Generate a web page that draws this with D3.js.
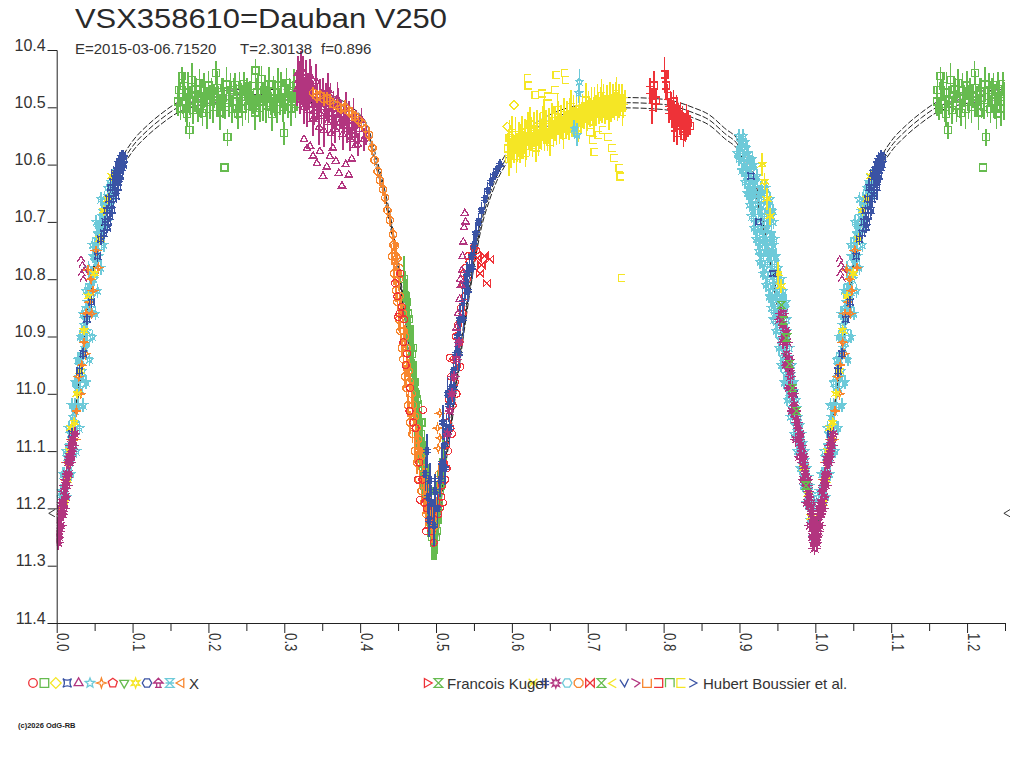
<!DOCTYPE html>
<html>
<head>
<meta charset="utf-8">
<script src="https://cdn.jsdelivr.net/npm/d3@7"></script>
<style>
  body { margin: 0; background: #fff; }
  svg { display: block; font-family: "Liberation Sans", Arial, sans-serif; }
</style>
</head>
<body>
<div id="chart"></div>
<script>
// ---- data (phase, magnitude, error) ----
const title = 'VSX358610=Dauban V250';
const subtitle = ['E=2015-03-06.71520', 'T=2.30138', 'f=0.896'];
const xTicks = [0, 0.1, 0.2, 0.3, 0.4, 0.5, 0.6, 0.7, 0.8, 0.9, 1.0, 1.1, 1.2];
const xMinor = [0.05, 0.15, 0.25, 0.35, 0.45, 0.55, 0.65, 0.75, 0.85, 0.95, 1.05, 1.15, 1.25];
const yTicks = [10.4, 10.5, 10.6, 10.7, 10.8, 10.9, 11.0, 11.1, 11.2, 11.3, 11.4];

// fitted light curve (centre line), phase 0..1
const curvePh = [0, 0.01, 0.02, 0.03, 0.04, 0.05, 0.06, 0.07, 0.08, 0.09, 0.10, 0.12, 0.14, 0.16, 0.18, 0.20, 0.25,
  0.30, 0.33, 0.35, 0.37, 0.39, 0.40, 0.41, 0.42, 0.43, 0.44, 0.45, 0.46, 0.47, 0.48, 0.49, 0.50,
  0.51, 0.52, 0.53, 0.54, 0.55, 0.56, 0.57, 0.58, 0.59, 0.60, 0.62, 0.65, 0.70, 0.75, 0.80, 0.84,
  0.86, 0.88, 0.90, 0.91, 0.92, 0.93, 0.94, 0.95, 0.96, 0.97, 0.98, 0.99, 1.00];
const curveMag = [11.25, 11.17, 11.08, 10.98, 10.87, 10.775, 10.70, 10.65, 10.615, 10.588, 10.568, 10.54, 10.518, 10.50, 10.49, 10.484, 10.478,
  10.478, 10.482, 10.485, 10.493, 10.51, 10.522, 10.542, 10.59, 10.64, 10.70, 10.78, 10.87, 10.97, 11.07, 11.16, 11.25,
  11.14, 11.05, 10.95, 10.855, 10.77, 10.70, 10.655, 10.62, 10.595, 10.575, 10.548, 10.522, 10.502, 10.492, 10.495, 10.51,
  10.522, 10.545, 10.57, 10.60, 10.635, 10.695, 10.765, 10.84, 10.92, 11.0, 11.085, 11.17, 11.25];
const curveOffsets = [-0.009, 0, 0.009];

const greenMax = [[0.160,10.490,0.025],[0.161,10.470,0.030],[0.163,10.502,0.020],[0.165,10.445,0.015],[0.166,10.482,0.030],[0.168,10.463,0.025],
  [0.170,10.494,0.032],[0.172,10.512,0.020],[0.173,10.474,0.036],[0.175,10.540,0.015],[0.176,10.488,0.026],[0.178,10.452,0.030],[0.180,10.505,0.024],
  [0.182,10.478,0.031],[0.184,10.469,0.020],[0.186,10.497,0.028],[0.188,10.458,0.025],[0.190,10.486,0.033],[0.192,10.510,0.022],[0.194,10.471,0.030],
  [0.196,10.480,0.019],[0.198,10.503,0.034],[0.200,10.462,0.026],[0.202,10.491,0.030],[0.204,10.472,0.024],[0.206,10.499,0.029],[0.208,10.481,0.021],
  [0.210,10.440,0.020],[0.211,10.466,0.030],[0.213,10.489,0.026],[0.215,10.509,0.031],[0.217,10.473,0.024],[0.219,10.484,0.035],[0.221,10.605,0],
  [0.222,10.500,0.020],[0.224,10.460,0.031],[0.225,10.552,0.015],[0.227,10.492,0.025],[0.229,10.470,0.030],[0.231,10.503,0.024],[0.233,10.479,0.031],
  [0.235,10.461,0.020],[0.237,10.490,0.030],[0.239,10.511,0.026],[0.241,10.468,0.030],[0.243,10.482,0.025],[0.245,10.502,0.031],[0.247,10.459,0.021],
  [0.249,10.489,0.034],[0.251,10.472,0.024],[0.253,10.498,0.030],[0.255,10.480,0.026],[0.257,10.463,0.030],[0.259,10.492,0.020],[0.261,10.509,0.031],
  [0.262,10.436,0.020],[0.264,10.474,0.026],[0.266,10.485,0.030],[0.268,10.501,0.024],[0.270,10.450,0.022],[0.272,10.490,0.034],[0.274,10.470,0.025],
  [0.276,10.497,0.030],[0.278,10.481,0.025],[0.280,10.460,0.030],[0.282,10.493,0.021],[0.284,10.512,0.030],[0.286,10.473,0.027],[0.288,10.484,0.031],
  [0.290,10.503,0.024],[0.292,10.462,0.030],[0.294,10.491,0.022],[0.296,10.470,0.031],[0.298,10.500,0.025],[0.300,10.545,0.020],[0.301,10.482,0.030],
  [0.303,10.458,0.026],[0.305,10.489,0.030],[0.307,10.471,0.022],[0.309,10.502,0.030],[0.311,10.480,0.026],[0.313,10.463,0.030],[0.315,10.494,0.025],
  [0.317,10.476,0.030]];

const purpleMax = [[0.317,10.468,0.030],[0.318,10.440,0.030],[0.319,10.452,0.032],[0.321,10.487,0.025],[0.322,10.432,0.030],[0.323,10.461,0.035],
  [0.325,10.440,0.030],[0.326,10.500,0.030],[0.327,10.478,0.028],[0.329,10.452,0.034],[0.330,10.505,0.030],[0.331,10.470,0.030],[0.333,10.496,0.026],
  [0.334,10.445,0.030],[0.335,10.459,0.031],[0.337,10.483,0.030],[0.338,10.520,0.030],[0.339,10.507,0.024],[0.341,10.472,0.030],[0.342,10.455,0.030],
  [0.343,10.491,0.032],[0.345,10.516,0.025],[0.346,10.535,0.030],[0.347,10.480,0.030],[0.349,10.500,0.029],[0.351,10.474,0.026],[0.352,10.540,0.030],
  [0.353,10.511,0.030],[0.355,10.489,0.031],[0.357,10.526,0.024],[0.358,10.470,0.030],[0.359,10.498,0.030],[0.361,10.483,0.025],[0.362,10.545,0.030],
  [0.363,10.518,0.031],[0.365,10.502,0.030],[0.367,10.538,0.024],[0.369,10.509,0.030],[0.370,10.485,0.030],[0.371,10.493,0.026],[0.373,10.527,0.030],
  [0.375,10.512,0.025],[0.377,10.547,0.028],[0.379,10.520,0.025],[0.381,10.503,0.030],[0.383,10.538,0.024],[0.385,10.519,0.030],[0.387,10.556,0.020],
  [0.389,10.531,0.026],[0.391,10.512,0.029],[0.393,10.548,0.021],[0.395,10.529,0.025],[0.397,10.565,0.020],[0.399,10.538,0.025],[0.402,10.522,0.020],
  [0.405,10.556,0.020],[0.408,10.548,0.018]];
const purpleMaxLow = [[0.326,10.556],[0.330,10.572],[0.334,10.568],[0.338,10.585],[0.343,10.598],[0.347,10.577],[0.351,10.620],[0.356,10.604],
  [0.360,10.586],[0.364,10.571],[0.368,10.594],[0.372,10.615],[0.376,10.637],[0.381,10.600],[0.385,10.618],[0.389,10.590],[0.394,10.566]];

const orangeDesc = [[0.338,10.475,0.010],[0.343,10.481,0.012],[0.347,10.479,0.010],[0.352,10.486,0.012],[0.356,10.484,0.010],[0.360,10.489,0.012],
  [0.365,10.494,0.010],[0.370,10.497,0.012],[0.375,10.502,0.010],[0.380,10.500,0.012],[0.385,10.507,0.010],[0.389,10.512,0.012],[0.393,10.516,0.010],
  [0.398,10.522,0.012],[0.402,10.528,0.010],[0.407,10.537,0.012],[0.412,10.548,0.010],[0.416,10.571,0.012],[0.419,10.592,0.010],[0.423,10.612,0.012],
  [0.426,10.627,0.010],[0.430,10.643,0.012],[0.433,10.658,0.010],[0.436,10.680,0.012],[0.439,10.697,0.010],[0.443,10.722,0.012],[0.446,10.742,0.010],
  [0.449,10.764,0.012],[0.452,10.781,0.010]];

// secondary minimum
const greenSec = [[0.462,10.84,0.04],[0.464,10.87,0.04],[0.466,10.90,0.035],[0.468,10.93,0.04],[0.470,10.95,0.04],[0.472,10.98,0.035],[0.474,11.00,0.04],
  [0.476,11.03,0.04],[0.478,11.05,0.035],[0.480,11.07,0.04],[0.482,11.09,0.04],[0.484,11.11,0.035],[0.486,11.13,0.04],[0.488,11.15,0.04],[0.490,11.17,0.035],
  [0.492,11.19,0.04],[0.494,11.21,0.04],[0.496,11.23,0.035],[0.498,11.24,0.04],[0.500,11.25,0.04],[0.502,11.22,0.035],[0.504,11.19,0.04],[0.506,11.16,0.035],
  [0.470,10.92,0.04],[0.475,11.01,0.035],[0.481,11.05,0.04],[0.485,11.14,0.035],[0.491,11.20,0.04],[0.497,11.26,0.03],
  [0.458,10.80,0.04],[0.460,10.83,0.045],[0.463,10.86,0.04],[0.465,10.89,0.05],[0.467,10.92,0.04],[0.469,10.96,0.045],[0.471,10.99,0.05],
  [0.473,11.02,0.04],[0.475,11.04,0.045],[0.477,11.07,0.05],[0.479,11.09,0.04],[0.481,11.11,0.045],[0.483,11.13,0.05],[0.485,11.16,0.04],
  [0.487,11.18,0.045],[0.489,11.20,0.05],[0.493,11.22,0.045],[0.495,11.25,0.04],[0.499,11.23,0.045],[0.501,11.24,0.04],[0.503,11.20,0.045],
  [0.505,11.17,0.04],[0.507,11.14,0.045],[0.509,11.12,0.04]];
const orangeSec = [[0.444,10.74,0.010],[0.447,10.76,0.015],[0.449,10.79,0.010],[0.451,10.80,0.020],[0.452,10.83,0.015],[0.454,10.85,0.020],[0.456,10.86,0.015],
  [0.457,10.89,0.020],[0.459,10.90,0.020],[0.461,10.92,0.015],[0.462,10.95,0.020],[0.464,10.96,0.020],[0.466,10.98,0.015],[0.468,11.00,0.020],[0.470,11.02,0.020],
  [0.472,11.04,0.015],[0.474,11.06,0.020],[0.476,11.08,0.020],[0.478,11.10,0.020],[0.480,11.11,0.015],[0.482,11.13,0.020],[0.484,11.15,0.020],[0.486,11.16,0.020],
  [0.488,11.18,0.020],[0.490,11.19,0.020],[0.492,11.20,0.025],[0.494,11.22,0.020],[0.496,11.21,0.025],[0.498,11.23,0.020],[0.500,11.20,0.020],[0.502,11.17,0.020],
  [0.504,11.14,0.020],
  [0.442,10.76,0.015],[0.445,10.79,0.020],[0.447,10.82,0.020],[0.449,10.84,0.015],[0.451,10.87,0.020],[0.453,10.89,0.020],[0.455,10.92,0.015],
  [0.457,10.94,0.020],[0.459,10.97,0.020],[0.461,10.99,0.015],[0.463,11.02,0.020],[0.466,11.05,0.020],[0.469,11.07,0.015],[0.472,11.10,0.020],
  [0.475,11.12,0.020],[0.478,11.15,0.015],[0.481,11.17,0.020],[0.484,11.19,0.020],[0.487,11.21,0.020],[0.491,11.23,0.020],[0.495,11.24,0.020]];
const orangeSecStars = [[0.505,11.034],[0.502,11.060],[0.505,11.077],[0.503,11.095]];
const redSec = [[0.446,10.807],[0.452,10.86],[0.450,10.866],[0.455,10.848],[0.458,10.87],[0.457,10.91],[0.462,10.93],[0.466,10.99],[0.470,11.05],[0.473,11.06],
  [0.478,11.12],[0.479,11.185],[0.483,11.028],[0.482,11.15],[0.485,11.19],[0.488,11.20],[0.491,11.22],[0.494,11.24],[0.497,11.26],[0.503,11.21],[0.507,11.18],
  [0.512,11.15],[0.516,11.10],[0.519,11.06],[0.522,11.02],[0.518,10.937],[0.525,10.98],[0.528,10.95],[0.532,10.953],[0.531,10.91],[0.535,10.86],[0.538,10.83],
  [0.541,10.80],[0.544,10.77],[0.547,10.76],[0.550,10.745],[0.553,10.75],[0.537,10.79],
  [0.505,11.20],[0.508,11.16],[0.510,11.12],[0.513,11.09],[0.515,11.05],[0.517,11.01],[0.520,10.97],[0.523,10.94],[0.526,10.90],[0.529,10.88],
  [0.533,10.85],[0.536,10.81],[0.539,10.78],[0.542,10.76],[0.509,11.19],[0.514,11.13],[0.521,11.07],[0.527,11.00],[0.460,10.95],[0.465,11.03],
  [0.476,11.15],[0.487,11.24],[0.449,10.83],[0.453,10.79]];
const redBowtie = [[0.555,10.763],[0.558,10.790],[0.560,10.775],[0.564,10.760],[0.567,10.807],[0.571,10.765]];
const blueSec = [[0.486,11.14,0.03],[0.489,11.18,0.03],[0.491,11.22,0.03],[0.494,11.19,0.03],[0.497,11.23,0.035],[0.499,11.17,0.03],[0.502,11.20,0.03],
  [0.505,11.15,0.03],[0.508,11.12,0.03],[0.511,11.09,0.03],[0.514,11.06,0.025],[0.517,11.02,0.03],[0.520,10.99,0.03],[0.523,10.96,0.025],[0.526,10.93,0.03],
  [0.529,10.90,0.03],[0.532,10.87,0.025],[0.535,10.84,0.03],[0.538,10.81,0.025],[0.541,10.79,0.02],[0.544,10.78,0.02],[0.547,10.76,0.02],[0.550,10.74,0.02],
  [0.553,10.72,0.02],[0.556,10.70,0.015],[0.560,10.68,0.015],[0.564,10.66,0.015],[0.568,10.645,0.015],[0.572,10.63,0.015],[0.576,10.62,0.01],[0.580,10.61,0.01],
  [0.584,10.60,0.01],[0.488,11.10,0.03],[0.492,11.15,0.03],[0.509,11.05,0.03],[0.515,11.00,0.03],[0.512,11.13,0.03],[0.518,11.06,0.03],[0.524,10.99,0.03],
  [0.530,10.93,0.03],[0.536,10.87,0.03],[0.542,10.82,0.02],[0.548,10.78,0.02]];
const purpleSecTri = [[0.538,10.685],[0.539,10.70],[0.537,10.71],[0.536,10.735],[0.535,10.76],[0.534,10.785],[0.532,10.80],[0.533,10.81],[0.531,10.835],
  [0.529,10.86],[0.527,10.885]];
const purpleSecStar = [[0.515,11.07],[0.518,11.03],[0.521,11.00],[0.524,10.97],[0.527,10.94],[0.530,10.91]];

// second maximum
const yellowBand = [[0.595,10.572,0.025],[0.597,10.553,0.030],[0.599,10.581,0.025],[0.601,10.561,0.030],[0.603,10.574,0.024],[0.605,10.548,0.031],
  [0.607,10.570,0.026],[0.609,10.556,0.030],[0.611,10.578,0.020],[0.613,10.544,0.029],[0.615,10.566,0.025],[0.617,10.551,0.031],[0.619,10.568,0.024],
  [0.621,10.538,0.030],[0.623,10.559,0.026],[0.625,10.547,0.030],[0.627,10.566,0.020],[0.629,10.539,0.031],[0.631,10.556,0.025],[0.633,10.534,0.030],
  [0.635,10.561,0.024],[0.637,10.541,0.031],[0.639,10.549,0.026],[0.641,10.528,0.030],[0.643,10.552,0.025],[0.645,10.534,0.029],[0.647,10.556,0.020],
  [0.649,10.531,0.030],[0.651,10.544,0.026],[0.653,10.524,0.031],[0.655,10.546,0.024],[0.657,10.529,0.030],[0.659,10.541,0.025],[0.661,10.519,0.030],
  [0.663,10.538,0.026],[0.665,10.526,0.030],[0.667,10.536,0.021],[0.669,10.514,0.031],[0.671,10.531,0.025],[0.673,10.519,0.030],[0.675,10.533,0.024],
  [0.677,10.514,0.030],[0.679,10.526,0.026],[0.681,10.509,0.030],[0.683,10.524,0.025],[0.685,10.511,0.030],[0.687,10.521,0.020],[0.689,10.504,0.031],
  [0.691,10.519,0.025],[0.693,10.506,0.030],[0.695,10.514,0.024],[0.697,10.498,0.030],[0.699,10.516,0.026],[0.701,10.501,0.030],[0.703,10.509,0.025],
  [0.705,10.494,0.030],[0.707,10.511,0.020],[0.709,10.496,0.031],[0.711,10.504,0.025],[0.713,10.489,0.030],[0.715,10.506,0.024],[0.717,10.494,0.030],
  [0.719,10.501,0.026],[0.721,10.489,0.030],[0.723,10.504,0.025],[0.725,10.491,0.030],[0.727,10.499,0.020],[0.729,10.486,0.030],[0.731,10.501,0.025],
  [0.733,10.489,0.030],[0.735,10.498,0.024],[0.737,10.486,0.030],[0.739,10.499,0.025],[0.741,10.489,0.029],[0.743,10.496,0.020],[0.745,10.484,0.025],
  [0.747,10.498,0.020],[0.749,10.489,0.020],
  [0.596,10.590,0.030],[0.600,10.545,0.030],[0.606,10.585,0.030],[0.612,10.560,0.030],[0.618,10.580,0.025],[0.624,10.530,0.030],[0.632,10.570,0.025],
  [0.642,10.515,0.030],[0.650,10.560,0.025],[0.660,10.505,0.030],[0.668,10.548,0.025],[0.678,10.500,0.030],[0.688,10.535,0.025],[0.698,10.488,0.030],
  [0.708,10.525,0.025],[0.718,10.480,0.030],[0.728,10.515,0.025],[0.738,10.477,0.030],[0.746,10.508,0.025]];
const yellowOut = [[0.621,10.449],[0.622,10.462],[0.659,10.444],[0.670,10.440],[0.671,10.452],[0.657,10.470],[0.631,10.478],[0.640,10.476],[0.648,10.481],
  [0.703,10.543],[0.707,10.557],[0.709,10.578],[0.727,10.552],[0.732,10.571],[0.735,10.589],[0.742,10.606],[0.743,10.621],[0.745,10.798],[0.720,10.540],
  [0.714,10.548]];
const yellowDiamond = [[0.603,10.496],[0.594,10.534],[0.598,10.550]];
const cyanMax = [[0.689,10.455,0.022],[0.688,10.475,0.018],[0.686,10.548,0.020],[0.682,10.537,0.015]];
const redMax = [[0.782,10.470,0.022],[0.785,10.500,0.030],[0.787,10.462,0.025],[0.790,10.488,0.020],[0.801,10.443,0.030],[0.803,10.462,0.025],
  [0.805,10.480,0.020],[0.807,10.505,0.022],[0.809,10.497,0.025],[0.811,10.512,0.024],[0.813,10.490,0.020],[0.815,10.520,0.022],[0.817,10.503,0.025],
  [0.819,10.512,0.020],[0.821,10.527,0.022],[0.823,10.532,0.025],[0.825,10.518,0.020],[0.827,10.536,0.022],[0.829,10.541,0.020],[0.832,10.528,0.024],
  [0.835,10.533,0.016],[0.814,10.535,0.025],[0.818,10.545,0.020],[0.822,10.515,0.025],[0.826,10.550,0.020],[0.830,10.520,0.025]];

// descending branch to primary minimum
const cyanDesc = [[0.899,10.55],[0.905,10.55],[0.901,10.57],[0.909,10.57],[0.904,10.57],[0.899,10.59],[0.906,10.59],[0.913,10.59],[0.917,10.59],
  [0.903,10.61],[0.910,10.61],[0.916,10.61],[0.907,10.63],[0.914,10.63],[0.921,10.63],[0.910,10.65],[0.918,10.65],[0.926,10.65],[0.933,10.65],
  [0.913,10.67],[0.921,10.67],[0.929,10.67],[0.938,10.67],[0.916,10.69],[0.925,10.69],[0.933,10.69],[0.942,10.69],[0.919,10.71],[0.928,10.71],[0.936,10.71],
  [0.922,10.73],[0.931,10.73],[0.940,10.73],[0.946,10.73],[0.925,10.75],[0.934,10.75],[0.943,10.75],[0.927,10.77],[0.937,10.77],[0.946,10.77],
  [0.931,10.79],[0.941,10.79],[0.949,10.79],[0.935,10.81],[0.944,10.81],[0.953,10.81],[0.939,10.83],[0.948,10.83],[0.957,10.83],
  [0.942,10.85],[0.951,10.85],[0.960,10.85],[0.945,10.87],[0.953,10.87],[0.962,10.87],[0.948,10.89],[0.956,10.89],[0.963,10.89],
  [0.952,10.92],[0.959,10.92],[0.966,10.92],[0.955,10.95],[0.963,10.95],[0.969,10.95],[0.959,10.98],[0.966,10.98],[0.972,10.98],
  [0.963,11.01],[0.970,11.01],[0.975,11.01],[0.967,11.04],[0.973,11.04],[0.978,11.04],[0.972,11.07],[0.977,11.07],[0.982,11.07],
  [0.976,11.10],[0.981,11.10],[0.986,11.10],[0.980,11.13],[0.985,11.13],[0.989,11.13],[0.984,11.16],[0.989,11.16],[0.993,11.16],
  [0.988,11.19],[0.993,11.19],[0.998,11.19],[0.993,11.22],[0.997,11.22],[0.997,11.25],
  [0.902,10.56],[0.908,10.56],[0.897,10.58],[0.904,10.58],[0.911,10.58],[0.906,10.60],[0.913,10.60],[0.919,10.60],[0.909,10.62],[0.915,10.62],
  [0.923,10.62],[0.912,10.64],[0.919,10.64],[0.928,10.64],[0.935,10.64],[0.915,10.66],[0.924,10.66],[0.932,10.66],[0.940,10.66],[0.918,10.68],
  [0.927,10.68],[0.936,10.68],[0.944,10.68],[0.921,10.70],[0.930,10.70],[0.939,10.70],[0.945,10.70],[0.924,10.72],[0.933,10.72],[0.942,10.72],
  [0.927,10.74],[0.936,10.74],[0.945,10.74],[0.929,10.76],[0.939,10.76],[0.948,10.76],[0.933,10.78],[0.943,10.78],[0.951,10.78],[0.937,10.80],
  [0.946,10.80],[0.955,10.80],[0.941,10.82],[0.950,10.82],[0.958,10.82],[0.944,10.84],[0.953,10.84],[0.961,10.84],[0.947,10.86],[0.956,10.86],
  [0.950,10.88],[0.958,10.88],[0.954,10.905],[0.961,10.905],[0.957,10.935],[0.965,10.935],[0.961,10.965],[0.968,10.965],[0.965,10.995],
  [0.972,10.995],[0.969,11.025],[0.975,11.025],[0.974,11.055],[0.980,11.055],[0.978,11.085],[0.984,11.085],[0.982,11.115],[0.987,11.115],
  [0.986,11.145],[0.991,11.145],[0.990,11.175],[0.995,11.175],[0.995,11.205]];
const yellowDesc = [[0.930,10.600,0.020],[0.933,10.630,0.015],[0.936,10.660,0.020],[0.940,10.690,0.015],[0.951,10.790,0.020],[0.955,10.812,0.012],
  [0.985,11.130,0.010],[0.990,11.175,0.012],[0.994,11.215,0.010]];
const greenDesc = [[0.955,10.845],[0.958,10.872],[0.962,10.902],[0.966,10.948],[0.970,10.990],[0.975,11.030],[0.988,11.160]];
const blueDesc = [[0.915,10.620],[0.925,10.700],[0.944,10.790],[0.960,10.900],[0.972,11.000]];
const purpleMin = [[0.955,10.86],[0.957,10.88],[0.959,10.90],[0.961,10.89],[0.962,10.93],[0.964,10.95],[0.966,10.94],[0.967,10.97],[0.969,11.00],
  [0.970,10.99],[0.972,11.02],[0.974,11.04],[0.975,11.03],[0.977,11.06],[0.979,11.08],[0.980,11.07],[0.982,11.10],[0.984,11.12],[0.985,11.11],
  [0.987,11.14],[0.989,11.16],[0.990,11.15],[0.992,11.18],[0.994,11.20],[0.995,11.19],[0.997,11.22],[0.998,11.24],[0.999,11.27],[0.996,11.25],
  [0.000,11.25],[0.001,11.23],[0.002,11.26],[0.003,11.22],[0.004,11.24],[0.005,11.20],[0.006,11.23],[0.007,11.19],[0.008,11.21],[0.009,11.17],
  [0.010,11.20],[0.011,11.16],[0.012,11.18],[0.013,11.14],[0.014,11.16],[0.015,11.12],[0.016,11.14],[0.017,11.11],[0.018,11.12],[0.019,11.09],
  [0.020,11.10],[0.021,11.08],[0.022,11.09],
  [0.953,10.87],[0.958,10.86],[0.957,10.91],[0.963,10.91],[0.961,10.95],[0.967,10.96],[0.965,10.99],[0.971,11.00],[0.969,11.03],[0.976,11.05],
  [0.974,11.08],[0.981,11.09],[0.979,11.11],[0.986,11.13],[0.984,11.15],[0.991,11.17],[0.989,11.19],[0.995,11.21],[0.993,11.23],[0.998,11.26],
  [0.003,11.25],[0.006,11.21],[0.009,11.19],[0.012,11.15],[0.016,11.11],[0.019,11.11],[0.024,11.07]];

// ascending branch after primary minimum
const cyanAsc = [[0.006,11.17],[0.009,11.18],[0.010,11.14],[0.012,11.16],[0.013,11.11],[0.015,11.14],[0.016,11.09],[0.018,11.07],[0.019,11.11],
  [0.021,11.04],[0.022,11.08],[0.024,11.02],[0.025,11.05],[0.027,10.99],[0.028,11.02],[0.030,10.95],[0.031,10.99],[0.033,10.93],[0.034,10.96],
  [0.035,10.90],[0.037,10.92],[0.038,10.87],[0.040,10.89],[0.041,10.84],[0.043,10.86],[0.044,10.81],[0.046,10.83],[0.047,10.79],[0.049,10.80],
  [0.050,10.76],[0.052,10.77],[0.053,10.73],[0.055,10.75],[0.056,10.71],[0.058,10.72],[0.060,10.69],[0.062,10.71],[0.064,10.67],[0.066,10.68],
  [0.068,10.655],[0.070,10.67],[0.072,10.64],[0.074,10.655],[0.076,10.63],
  [0.004,11.18],[0.014,11.18],[0.008,11.14],[0.019,11.14],[0.012,11.10],[0.026,11.10],[0.016,11.06],[0.030,11.06],[0.020,11.02],[0.035,11.02],
  [0.024,10.98],[0.039,10.98],[0.028,10.94],[0.043,10.94],[0.031,10.90],[0.047,10.90],[0.034,10.86],[0.051,10.86],[0.038,10.82],[0.054,10.82],
  [0.042,10.78],[0.058,10.78],[0.047,10.74],[0.062,10.74],[0.052,10.70],[0.066,10.70],[0.058,10.66],[0.071,10.66],
  [0.011,11.16],[0.017,11.12],[0.021,11.08],[0.025,11.03],[0.029,10.97],[0.032,10.94],[0.036,10.88],[0.039,10.85],[0.042,10.82],[0.045,10.79],
  [0.048,10.76],[0.051,10.74],[0.054,10.72],[0.057,10.70],[0.060,10.68],[0.063,10.66],[0.067,10.64],[0.071,10.63],[0.074,10.62],[0.023,11.06],
  [0.033,10.97],[0.040,10.91],[0.045,10.85],[0.050,10.79],[0.055,10.76]];
const orangeAsc = [[0.004,11.21],[0.008,11.20],[0.011,11.15],[0.016,11.12],[0.020,11.08],[0.026,11.03],[0.029,10.97],[0.033,10.95],[0.036,10.91],
  [0.039,10.86],[0.041,10.784],[0.043,10.84],[0.045,10.80],[0.048,10.82],[0.052,10.75],[0.055,10.78],[0.024,11.08],[0.032,11.00],[0.038,10.93],
  [0.046,10.86],[0.014,11.12]];
const yellowAsc = [[0.010,11.19],[0.014,11.15],[0.017,11.10],[0.019,11.06],[0.023,11.05],[0.027,11.00],[0.031,10.96],[0.036,10.89],[0.042,10.83],
  [0.050,10.79],[0.057,10.73],[0.062,10.68],[0.068,10.66],[0.073,10.62]];
const blueAsc = [[0.064,10.70,0.01],[0.066,10.68,0.01],[0.067,10.71,0.01],[0.069,10.66,0.01],[0.070,10.69,0.01],[0.071,10.64,0.01],[0.072,10.67,0.01],
  [0.074,10.63,0.01],[0.075,10.66,0.01],[0.076,10.615,0.01],[0.077,10.645,0.01],[0.079,10.61,0.01],[0.080,10.63,0.01],[0.081,10.60,0.01],
  [0.082,10.625,0.01],[0.083,10.595,0.01],[0.084,10.61,0.01],[0.085,10.59,0.01],[0.086,10.605,0.01],[0.087,10.585,0.01],[0.088,10.60,0.01],
  [0.073,10.68,0.01],[0.078,10.655,0.01],[0.068,10.70,0.01],[0.030,10.96,0.01],[0.040,10.87,0.01],[0.046,10.84,0.01],[0.054,10.76,0.01],
  [0.058,10.73,0.01],[0.062,10.72,0.01],[0.020,11.07,0.01],[0.035,10.93,0.01],[0.078,10.62,0.015],[0.081,10.64,0.015],[0.084,10.62,0.015],
  [0.086,10.59,0.015],[0.089,10.59,0.012]];
const purpleCaret = [[0.032,10.765],[0.034,10.775],[0.036,10.785],[0.033,10.790],[0.035,10.800]];

// out-of-range markers at the frame edges
const edgeMarks = [[-0.006, 11.208], [1.253, 11.208]];

const C = {red: '#ee3238', green: '#66bb4f', yellow: '#f5e625', blue: '#3a53a4', purple: '#b2357f',
  cyan: '#6dcad9', orange: '#f7862e', ink: '#222'};

const legendA = [['circle', C.red], ['square', C.green], ['diamond', C.yellow], ['concave', C.blue], ['triangle', C.purple],
  ['star5', C.cyan], ['star4', C.orange], ['pentagon', C.red], ['triDown', C.green], ['star6', C.yellow], ['hexagon', C.blue],
  ['mushroom', C.purple], ['hourglassX', C.cyan], ['triLeft', C.orange]];
const legendB = [['triRight', C.red], ['hourglass', C.green]];
const legendC = [['xcross', C.yellow], ['hash', C.blue], ['asterisk8', C.purple], ['hexagon', C.cyan], ['octagon', C.orange],
  ['bowtie', C.red], ['hourglass', C.green], ['chevL', C.yellow], ['chevV', C.blue], ['caret', C.purple], ['cupU', C.orange],
  ['cupR', C.red], ['capN', C.green], ['cupL', C.yellow], ['chevR', C.blue]];
const legendNames = ['X', 'Francois Kugel', 'Hubert Boussier et al.'];

// draw order: first listed goes underneath; err = default error bar
const series = [
  {pts: greenMax, sym: 'square', color: C.green},
  {pts: purpleMax, sym: 'triangle', color: C.purple},
  {pts: purpleMaxLow, sym: 'triangle', color: C.purple},
  {pts: orangeDesc, sym: 'octagon', color: C.orange},
  {pts: yellowBand, sym: 'cupL', color: C.yellow},
  {pts: yellowOut, sym: 'cupL', color: C.yellow},
  {pts: yellowDiamond, sym: 'diamond', color: C.yellow},
  {pts: cyanMax, sym: 'star5', color: C.cyan},
  {pts: redMax, sym: 'cupR', color: C.red},
  {pts: cyanDesc, sym: 'star5', color: C.cyan, err: 0.012},
  {pts: yellowDesc, sym: 'star6', color: C.yellow},
  {pts: blueDesc, sym: 'concave', color: C.blue},
  {pts: cyanAsc, sym: 'star5', color: C.cyan, err: 0.012},
  {pts: orangeAsc, sym: 'star4', color: C.orange, err: 0.008},
  {pts: yellowAsc, sym: 'star6', color: C.yellow, err: 0.008},
  {pts: blueAsc, sym: 'concave', color: C.blue},
  {pts: purpleCaret, sym: 'caretUp', color: C.purple},
  {pts: purpleMin, sym: 'asterisk8', color: C.purple, err: 0.012},
  {pts: greenDesc, sym: 'hourglass', color: C.green},
  {pts: greenSec, sym: 'square', color: C.green},
  {pts: orangeSec, sym: 'octagon', color: C.orange},
  {pts: orangeSecStars, sym: 'star4', color: C.orange},
  {pts: redSec, sym: 'circle', color: C.red},
  {pts: redBowtie, sym: 'bowtie', color: C.red},
  {pts: blueSec, sym: 'hash', color: C.blue},
  {pts: purpleSecTri, sym: 'triangle', color: C.purple},
  {pts: purpleSecStar, sym: 'asterisk8', color: C.purple, err: 0.01}
];

// ---- symbols ----
function symPath(type, r) {
  const p = d3.path();
  const poly = (n, rot, rr) => {
    for (let i = 0; i < n; i++) {
      const a = rot + i * 2 * Math.PI / n;
      i ? p.lineTo(rr * Math.cos(a), rr * Math.sin(a)) : p.moveTo(rr * Math.cos(a), rr * Math.sin(a));
    }
    p.closePath();
  };
  const star = (n, inner) => {
    for (let i = 0; i < 2 * n; i++) {
      const a = -Math.PI / 2 + i * Math.PI / n;
      const rr = i % 2 ? r * inner : r * 1.15;
      i ? p.lineTo(rr * Math.cos(a), rr * Math.sin(a)) : p.moveTo(rr * Math.cos(a), rr * Math.sin(a));
    }
    p.closePath();
  };
  const lines = (pts, close) => {
    pts.forEach(([a, b], i) => i ? p.lineTo(a * r, b * r) : p.moveTo(a * r, b * r));
    if (close) p.closePath();
  };
  switch (type) {
    case 'circle': p.arc(0, 0, r, 0, 2 * Math.PI); break;
    case 'square': p.rect(-r, -r, 2 * r, 2 * r); break;
    case 'diamond': poly(4, -Math.PI / 2, r * 1.25); break;
    case 'concave':
      p.moveTo(-r, -r); p.quadraticCurveTo(0, -r * 0.3, r, -r); p.quadraticCurveTo(r * 0.3, 0, r, r);
      p.quadraticCurveTo(0, r * 0.3, -r, r); p.quadraticCurveTo(-r * 0.3, 0, -r, -r); p.closePath(); break;
    case 'triangle': poly(3, -Math.PI / 2, r * 1.2); break;
    case 'triDown': poly(3, Math.PI / 2, r * 1.2); break;
    case 'triLeft': poly(3, Math.PI, r * 1.2); break;
    case 'triRight': poly(3, 0, r * 1.2); break;
    case 'star5': star(5, 0.5); break;
    case 'star4': star(4, 0.4); break;
    case 'star6': star(6, 0.5); break;
    case 'asterisk8': star(8, 0.55); break;
    case 'pentagon': poly(5, -Math.PI / 2, r * 1.1); break;
    case 'hexagon': poly(6, 0, r * 1.1); break;
    case 'octagon': poly(8, Math.PI / 8, r * 1.1); break;
    case 'mushroom':
      lines([[-1.1, 0], [0, -1.1], [1.1, 0]], true); lines([[-0.4, 0], [-0.4, 1]]); lines([[0.4, 0], [0.4, 1]]);
      lines([[-0.8, 1], [0.8, 1]]); break;
    case 'hourglass': lines([[-1, -1], [1, -1], [-1, 1], [1, 1]], true); break;
    case 'hourglassX': lines([[-1, -1], [1, -1], [-1, 1], [1, 1]], true); lines([[-1, 0], [1, 0]]); break;
    case 'bowtie': lines([[-1, -1], [1, 1], [1, -1], [-1, 1]], true); break;
    case 'xcross': lines([[-1, -1], [1, 1]]); lines([[1, -1], [-1, 1]]); lines([[-1, 0], [1, 0]]); break;
    case 'hash':
      lines([[-0.4, -1.1], [-0.4, 1.1]]); lines([[0.4, -1.1], [0.4, 1.1]]);
      lines([[-1.1, -0.4], [1.1, -0.4]]); lines([[-1.1, 0.4], [1.1, 0.4]]); break;
    case 'chevL': lines([[0.8, -1], [-1, 0.1], [0.8, 1.1]]); break;
    case 'chevR': lines([[-0.8, -1], [1, 0], [-0.8, 1]]); break;
    case 'chevV': lines([[-1, -0.8], [0.1, 0.9], [1, -1]]); break;
    case 'caret': lines([[-1, -1], [1, 0], [-0.3, 1]]); break;
    case 'caretUp': lines([[-1, 0.7], [0, -0.9], [1, 0.7]]); break;
    case 'cupU': lines([[-1, -1], [-1, 1], [1, 1], [1, -1]]); break;
    case 'cupR': lines([[-1, -1], [1, -1], [1, 1], [-1, 1]]); break;
    case 'capN': lines([[-1, 1], [-1, -1], [1, -1], [1, 1]]); break;
    case 'cupL': lines([[1, -1], [-1, -1], [-1, 1], [1, 1]]); break;
  }
  return p.toString();
}

// ---- chart ----
const W = 1024, H = 768;
const svg = d3.select('#chart').append('svg').attr('width', W).attr('height', H);

const x = d3.scaleLinear().domain([0, 1.25]).range([56.7, 1005]);
const y = d3.scaleLinear().domain([10.4, 11.4]).range([50, 623]);

// fold: phases below 0.25 are repeated one cycle later
const fold = (pts, err) => {
  const base = pts.map(d => [d[0], d[1], d[2] !== undefined ? d[2] : (err || 0)]);
  return base.concat(base.filter(d => d[0] >= 0 && d[0] + 1 <= 1.25).map(d => [d[0] + 1, d[1], d[2]]));
};

svg.append('defs').append('clipPath').attr('id', 'plotClip')
  .append('rect').attr('x', x(0)).attr('y', 0).attr('width', x(1.25) - x(0)).attr('height', y(11.4));

const plot = svg.append('g').attr('clip-path', 'url(#plotClip)');

// model curve (three dashed copies)
const curvePts = curvePh.map((p, i) => [p, curveMag[i]]);
const curveAll = curvePts.concat(curvePts.filter(d => d[0] > 0 && d[0] <= 0.25).map(d => [d[0] + 1, d[1]]));
curveOffsets.forEach(off => {
  plot.append('path')
    .datum(curveAll)
    .attr('fill', 'none')
    .attr('stroke', C.ink)
    .attr('stroke-width', 1)
    .attr('stroke-dasharray', '6,2')
    .attr('d', d3.line().x(d => x(d[0])).y(d => y(d[1] + off)).curve(d3.curveMonotoneX));
});

// observations
series.forEach(s => {
  const g = plot.append('g').attr('shape-rendering', 'crispEdges');
  const pts = fold(s.pts, s.err);
  g.selectAll('line')
    .data(pts.filter(d => d[2]))
    .enter().append('line')
      .attr('x1', d => x(d[0])).attr('x2', d => x(d[0]))
      .attr('y1', d => y(d[1] - d[2])).attr('y2', d => y(d[1] + d[2]))
      .attr('stroke', s.color)
      .attr('stroke-width', 1.6);
  g.selectAll('path')
    .data(pts)
    .enter().append('path')
      .attr('transform', d => `translate(${x(d[0])},${y(d[1])})`)
      .attr('d', symPath(s.sym, 3.5))
      .attr('fill', 'none')
      .attr('stroke', s.color)
      .attr('stroke-width', 1.3);
});

svg.selectAll('.edge')
  .data(edgeMarks)
  .enter().append('path')
    .attr('class', 'edge')
    .attr('transform', d => `translate(${x(d[0])},${y(d[1])})`)
    .attr('d', symPath('chevL', 3.4))
    .attr('fill', 'none')
    .attr('stroke', '#333')
    .attr('stroke-width', 1);

// Y axis
const yAxis = svg.append('g')
  .attr('transform', `translate(${x(0)},0)`)
  .call(d3.axisLeft(y).tickValues(yTicks).tickSize(9).tickPadding(2).tickFormat(d3.format('.1f')));
yAxis.select('.domain').attr('stroke', C.ink);
yAxis.selectAll('.tick line').attr('stroke', C.ink);
yAxis.selectAll('text').attr('dy', 0).attr('fill', '#333').style('font-size', '16px');

// X axis: minor then major ticks
const xMinorAxis = svg.append('g')
  .attr('transform', `translate(0,${y(11.4)})`)
  .call(d3.axisBottom(x).tickValues(xMinor).tickSize(8).tickSizeOuter(0).tickFormat(''));
xMinorAxis.select('.domain').attr('stroke', C.ink);
xMinorAxis.selectAll('.tick line').attr('stroke', C.ink);

const xAxis = svg.append('g')
  .attr('transform', `translate(0,${y(11.4)})`)
  .call(d3.axisBottom(x).tickValues(xTicks).tickSize(10).tickSizeOuter(0).tickFormat(d3.format('.1f')));
xAxis.select('.domain').remove();
xAxis.selectAll('.tick line').attr('stroke', C.ink);
xAxis.selectAll('text')
  .attr('transform', 'rotate(90)')
  .attr('x', 10).attr('y', 0).attr('dy', 0)
  .attr('text-anchor', 'start')
  .attr('textLength', 18.5).attr('lengthAdjust', 'spacingAndGlyphs')
  .attr('fill', '#333')
  .style('font-size', '16px');

// Titles
svg.append('text')
  .attr('x', 75).attr('y', 28)
  .attr('textLength', 372).attr('lengthAdjust', 'spacingAndGlyphs')
  .attr('fill', '#2a2a2a')
  .style('font-size', '28px')
  .text(title);

const subX = [75, 240, 321];
subtitle.forEach((t, i) => {
  svg.append('text')
    .attr('x', subX[i]).attr('y', 54)
    .attr('fill', '#333')
    .style('font-size', '15px')
    .text(t);
});

// Legend
const legY = 683, step = 11.4;
function legendRow(items, x0) {
  svg.append('g').selectAll('path')
    .data(items)
    .enter().append('path')
      .attr('transform', (d, i) => `translate(${x0 + i * step},${legY})`)
      .attr('d', d => symPath(d[0], 4.3))
      .attr('fill', 'none')
      .attr('stroke', d => d[1])
      .attr('stroke-width', 1.3);
}
legendRow(legendA, 33);
legendRow(legendB, 427);
legendRow(legendC, 533);

const legX = [189, 447, 703];
legendNames.forEach((t, i) => {
  svg.append('text')
    .attr('x', legX[i]).attr('y', legY + 5.5)
    .attr('fill', '#333')
    .style('font-size', '15px')
    .text(t);
});

svg.append('text')
  .attr('x', 18).attr('y', 728)
  .attr('fill', '#222')
  .style('font-size', '7.5px')
  .style('font-weight', 'bold')
  .text('(c)2026 OdG-RB');
</script>
</body>
</html>
